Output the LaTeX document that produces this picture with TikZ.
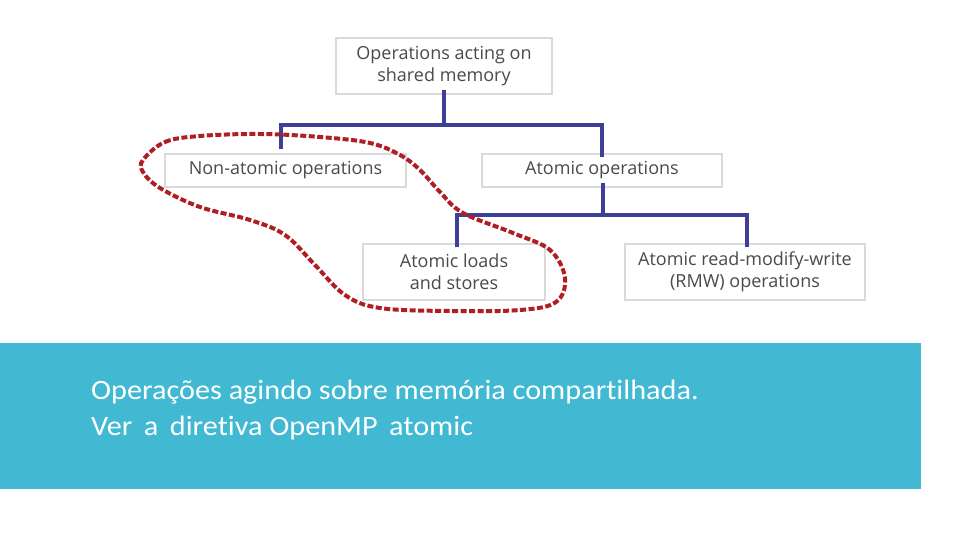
\documentclass[tikz,border=0pt]{standalone}
\usepackage{fontspec}
\setmainfont{Open Sans}
\newfontfamily\bandfont[Ligatures=NoCommon,FakeStretch=1.08]{Carlito}
\definecolor{boxline}{HTML}{DADADA}
\definecolor{boxtext}{HTML}{4A4A4A}
\definecolor{conn}{HTML}{3E3F98}
\definecolor{loopred}{HTML}{B01E23}
\definecolor{band}{HTML}{41B9D3}
\tikzset{
  opbox/.style={draw=boxline, line width=1.2pt, fill=white, text=boxtext, font=\fontsize{18}{22}\selectfont, align=center, inner sep=0pt},
  tree/.style={draw=conn, line width=4pt},
  bandtext/.style={text=white, font=\bandfont\fontsize{28}{30}\selectfont, anchor=base west, inner sep=0pt}
}
\begin{document}
\begin{tikzpicture}[x=1pt,y=-1pt]
\useasboundingbox (0,0) rectangle (960,540);
\fill[white] (0,0) rectangle (960,540);
% band
\fill[band] (0,343) rectangle (921,489);
\node[bandtext] (l1) at (91,399) {Operações agindo sobre memória compartilhada.};
\node[bandtext] (l2) at (91,435) {Ver\, a\, diretiva OpenMP\, atomic};
% boxes
\node[opbox, minimum width=216pt, minimum height=56pt] (top) at (444,66) {Operations acting on\\shared memory};
\node[opbox, minimum width=241pt, minimum height=33pt] (non) at (285.5,170.5) {Non-atomic operations};
\node[opbox, minimum width=240pt, minimum height=33pt] (atom) at (602,170.5) {Atomic operations};
\node[opbox, minimum width=182pt, minimum height=56pt] (ls) at (454,272) {Atomic loads\\and stores};
\node[opbox, minimum width=240pt, minimum height=56pt] (rmw) at (745,272) {Atomic read-modify-write\\(RMW) operations};
% connectors
\coordinate (j1) at (444,125);
\draw[tree] ([yshift=5pt]top.south) -- (j1);
\draw[tree] (non.north -| 281,0) ++(0,-4) |- (j1) -| ([yshift=-4pt]atom.north);
\coordinate (j2) at (603,215);
\draw[tree] ([yshift=5pt]atom.south -| j2) -- (j2);
\draw[tree] ([yshift=-4pt]ls.north -| 457,0) |- (j2) -| ([yshift=-4pt]rmw.north -| 747,0);
% red loop
\draw[loopred, line width=4pt, dash pattern=on 6pt off 2.5pt] plot[smooth cycle, tension=0.6] coordinates {
(143,160) (165,142) (200,136) (260,134) (320,137) (370,143) (400,155) (420,170) (440,192) (463,213) (513,233) (550,250) (565,278) (556,302) (520,310) (450,311) (380,308) (345,295) (315,265) (285,235) (250,220) (200,207) (160,188) (143,172)};
\end{tikzpicture}
\end{document}
